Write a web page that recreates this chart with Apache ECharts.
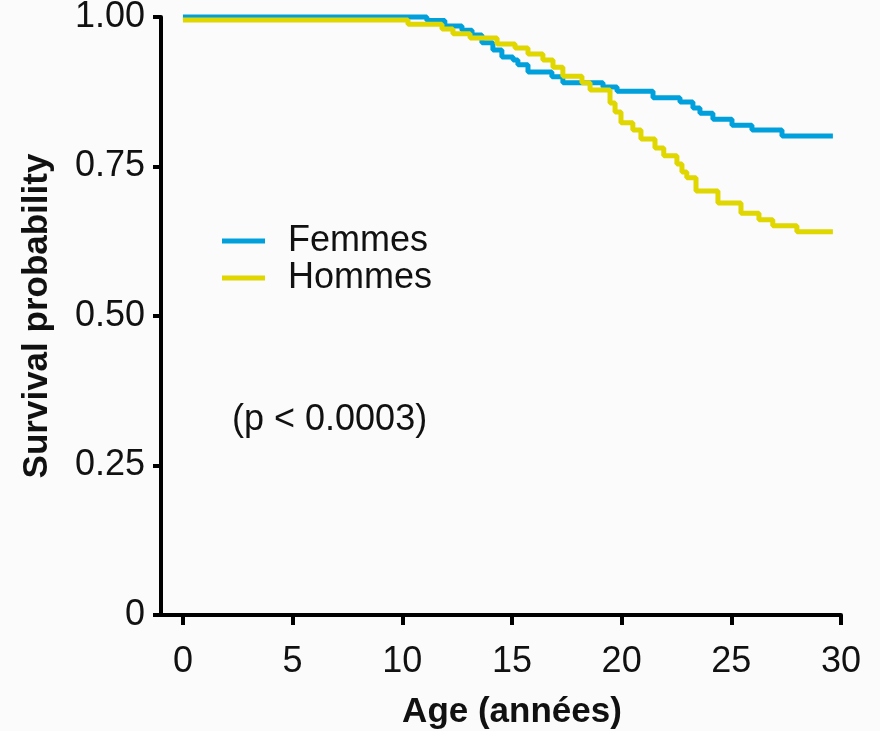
<!DOCTYPE html>
<html>
<head>
<meta charset="utf-8">
<script src="https://cdn.jsdelivr.net/npm/echarts@6/dist/echarts.min.js"></script>
<style>
  html, body { margin: 0; padding: 0; background: #fbfbfb; }
  #chart { width: 880px; height: 731px; }
</style>
</head>
<body>
<div id="chart"></div>
<script>
// Kaplan-Meier steps: age where the curve drops, survival after the drop
const femmesAge = [0, 11.12, 11.94, 12.72, 13.18, 13.63, 14.13, 14.54, 15.05, 15.27, 15.73, 16.82, 17.32, 19.15, 19.79, 21.43, 22.66, 23.25, 23.57, 24.16, 25.03, 25.94, 27.31, 29.63];
const femmesSurv = [1.0, 0.994, 0.985, 0.978, 0.970, 0.957, 0.945, 0.933, 0.928, 0.920, 0.908, 0.900, 0.890, 0.883, 0.876, 0.865, 0.858, 0.848, 0.839, 0.829, 0.819, 0.811, 0.801, 0.801];

const hommesAge = [0, 10.26, 11.81, 12.31, 13.09, 14.32, 15.14, 15.73, 16.41, 16.87, 17.32, 18.19, 18.56, 19.47, 19.70, 19.97, 20.51, 20.88, 21.52, 21.92, 22.52, 22.75, 22.97, 23.39, 24.39, 25.44, 26.26, 26.89, 27.99, 29.63];
const hommesSurv = [0.995, 0.988, 0.980, 0.972, 0.965, 0.955, 0.948, 0.938, 0.928, 0.916, 0.901, 0.890, 0.878, 0.856, 0.841, 0.823, 0.811, 0.796, 0.781, 0.768, 0.754, 0.741, 0.731, 0.709, 0.689, 0.672, 0.661, 0.651, 0.641, 0.641];

const xTicks = [0, 5, 10, 15, 20, 25, 30];
const seriesNames = ['Femmes', 'Hommes'];
const pValueText = '(p < 0.0003)';

const font = 'Arial, "Liberation Sans", Helvetica, sans-serif';
const chart = echarts.init(document.getElementById('chart'));

const zip = (xs, ys) => xs.map((x, i) => [x, ys[i]]);

chart.setOption({
  backgroundColor: '#fbfbfb',
  animation: false,
  grid: { left: 161, right: 39, top: 17, bottom: 116, containLabel: false, outerBoundsMode: 'none' },
  legend: {
    orient: 'vertical',
    left: 217,
    top: 218,
    itemGap: 1,
    icon: 'rect',
    itemWidth: 43,
    itemHeight: 5,
    data: seriesNames,
    textStyle: { fontFamily: font, fontSize: 36, color: '#111', padding: [0, 0, 0, 18], lineHeight: 36 }
  },
  xAxis: {
    type: 'value',
    min: -1,
    max: 30,
    name: 'Age (années)',
    nameLocation: 'middle',
    nameGap: 80,
    nameTextStyle: { fontFamily: font, fontSize: 35, fontWeight: 'bold', color: '#111', padding: [0, 0, 0, 22] },
    splitLine: { show: false },
    axisLine: { onZero: false, lineStyle: { color: '#000', width: 4 } },
    axisTick: { customValues: xTicks, length: 10, lineStyle: { color: '#000', width: 4 } },
    axisLabel: { customValues: xTicks, margin: 29, fontFamily: font, fontSize: 36, color: '#111' }
  },
  yAxis: {
    type: 'value',
    min: 0,
    max: 1,
    interval: 0.25,
    name: 'Survival probability',
    nameLocation: 'middle',
    nameGap: 106,
    nameTextStyle: { fontFamily: font, fontSize: 35, fontWeight: 'bold', color: '#111' },
    splitLine: { show: false },
    axisLine: { show: true, onZero: false, lineStyle: { color: '#000', width: 4 } },
    axisTick: { show: true, length: 8, lineStyle: { color: '#000', width: 4 } },
    axisLabel: {
      margin: 16,
      fontFamily: font,
      fontSize: 36,
      color: '#111',
      formatter: v => (v === 0 ? '0' : v.toFixed(2))
    }
  },
  graphic: [{
    type: 'text',
    left: 232,
    top: 402,
    style: { text: pValueText, font: '36px ' + font, fill: '#111' }
  }],
  series: [
    {
      name: seriesNames[0],
      type: 'line',
      step: 'end',
      symbol: 'none',
      clip: false,
      color: '#00a0dc',
      lineStyle: { width: 5, color: '#00a0dc' },
      data: zip(femmesAge, femmesSurv)
    },
    {
      name: seriesNames[1],
      type: 'line',
      step: 'end',
      symbol: 'none',
      clip: false,
      color: '#e0d600',
      lineStyle: { width: 5, color: '#e0d600' },
      data: zip(hommesAge, hommesSurv)
    }
  ]
});
</script>
</body>
</html>
